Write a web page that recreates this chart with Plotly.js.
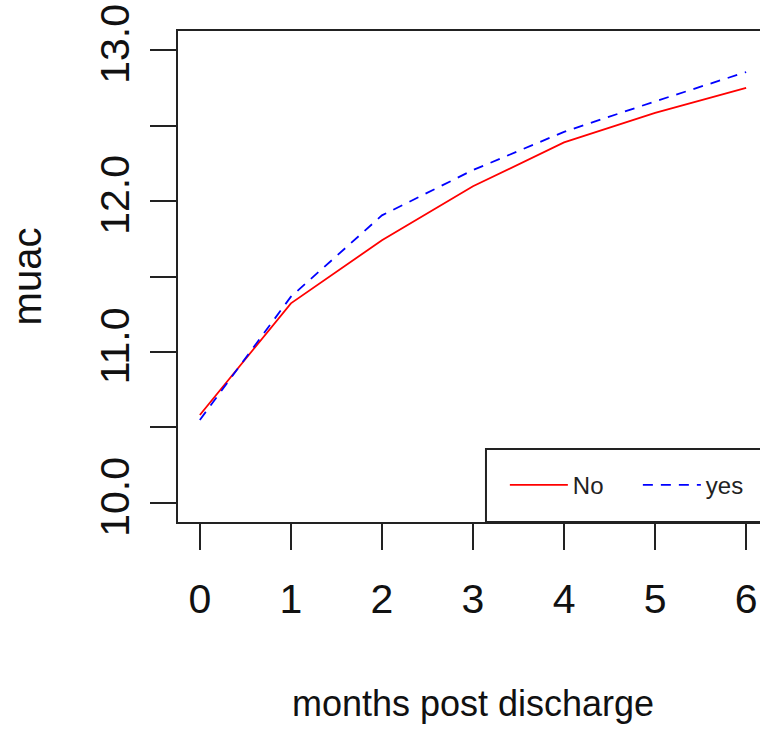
<!DOCTYPE html>
<html>
<head>
<meta charset="utf-8">
<script src="https://cdn.plot.ly/plotly-3.0.1.min.js"></script>
<style>
html,body{margin:0;padding:0;overflow:hidden;background:#fff;}
#wrap{width:760px;height:729px;overflow:hidden;}
</style>
</head>
<body>
<div id="wrap"><div id="chart"></div></div>
<script>
const months = [0, 1, 2, 3, 4, 5, 6];
const muacNo  = [10.583, 11.322, 11.740, 12.098, 12.388, 12.583, 12.750];
const muacYes = [10.550, 11.366, 11.905, 12.205, 12.458, 12.660, 12.854];
const seriesNames = ["No", "yes"];
const yTickVals = [10, 10.5, 11, 11.5, 12, 12.5, 13];
const yTickText = ["10.0", "", "11.0", "", "12.0", "", "13.0"];
const xTickVals = [0, 1, 2, 3, 4, 5, 6];

const font = "Liberation Sans, Arial, sans-serif";

const traces = [
  {x: months, y: muacNo, name: seriesNames[0], mode: "lines",
   line: {color: "#ff0000", width: 1.8}},
  {x: months, y: muacYes, name: seriesNames[1], mode: "lines",
   line: {color: "#0000ff", width: 1.8, dash: "10px,8px"}}
];

const layout = {
  width: 790, height: 729,
  margin: {l: 178, r: 22, t: 31, b: 207},
  paper_bgcolor: "#fff", plot_bgcolor: "#fff",
  font: {family: font, color: "#111"},
  xaxis: {
    range: [-0.24, 6.24], tickvals: xTickVals, ticktext: xTickVals.map(String),
    showgrid: false, zeroline: false, showline: true, mirror: true,
    linecolor: "#222", linewidth: 2, ticks: "outside", ticklen: 26, tickwidth: 2, tickcolor: "#222",
    tickfont: {size: 41, family: font, color: "#111"}, ticklabelstandoff: 14,
    title: {text: "months post discharge", font: {size: 36, family: font, color: "#111"}, standoff: 70}
  },
  yaxis: {
    range: [9.874, 13.126], tickvals: yTickVals, ticktext: yTickText, tickangle: -90,
    showgrid: false, zeroline: false, showline: true, mirror: true,
    linecolor: "#222", linewidth: 2, ticks: "outside", ticklen: 26, tickwidth: 2, tickcolor: "#222",
    tickfont: {size: 41, family: font, color: "#111"}, ticklabelstandoff: 5,
    title: {text: "muac", font: {size: 40, family: font, color: "#111"}, standoff: 38}
  },
  shapes: [
    {type: "rect", xref: "paper", yref: "paper", x0: 0.522, x1: 1.2, y0: 0, y1: 0.1487,
     line: {color: "#222", width: 2}, fillcolor: "rgba(255,255,255,0)", layer: "above"}
  ],
  showlegend: true,
  legend: {
    orientation: "h", x: 0.554, xanchor: "left", y: 0.075, yanchor: "middle",
    bgcolor: "rgba(255,255,255,0)", borderwidth: 0,
    font: {size: 24, family: "Liberation Sans Narrow, Liberation Sans, Arial, sans-serif", color: "#222"},
    itemwidth: 58, entrywidth: 60
  }
};

Plotly.newPlot("chart", traces, layout, {displayModeBar: false, staticPlot: true});
</script>
</body>
</html>
